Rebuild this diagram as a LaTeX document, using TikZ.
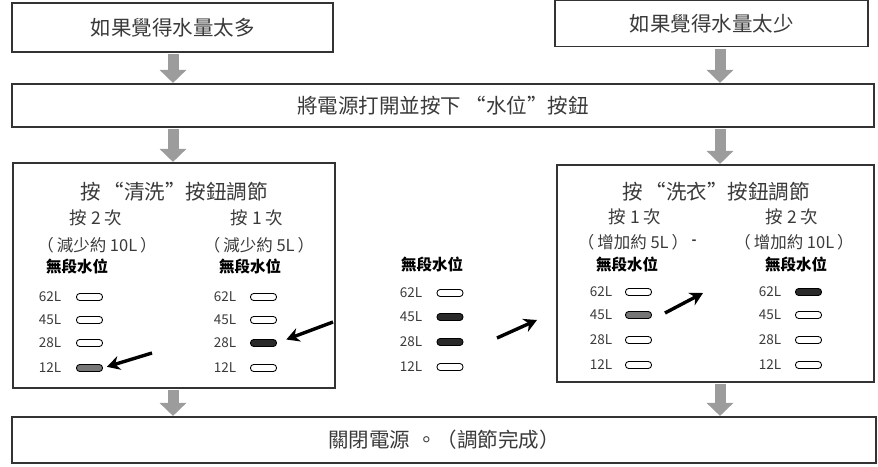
\documentclass[tikz,border=0pt]{standalone}
\usepackage{fontspec}
\setmainfont{Noto Sans CJK TC}
\usetikzlibrary{arrows.meta}
\definecolor{linec}{HTML}{333333}
\definecolor{txtc}{HTML}{3A3A3A}
\definecolor{arrg}{HTML}{9C9C9C}
\definecolor{darkfill}{HTML}{2A2A2A}
\definecolor{grayfill}{HTML}{767676}
\newcommand{\lp}{（\hspace{3pt}}
\newcommand{\rp}{\hspace{3pt}）}
\tikzset{
  box/.style={draw=linec, line width=1.1pt, inner sep=0pt, text=txtc},
  bigtxt/.style={font=\fontsize{20.5}{24}\selectfont},
  ttl/.style={text=txtc, inner sep=0pt, font=\fontsize{20.5}{24}\selectfont},
  cnt/.style={text=txtc, inner sep=0pt, font=\fontsize{17.5}{20}\selectfont},
  amt/.style={text=txtc, inner sep=0pt, font=\fontsize{16.5}{19}\selectfont},
  wl/.style={text=black, inner sep=0pt, font=\bfseries\fontsize{15.5}{18}\selectfont},
  lvl/.style={text=txtc, inner sep=0pt, font=\fontsize{13.5}{16}\selectfont},
  pill/.style={draw=black, line width=0.9pt, rounded corners=3.2pt, minimum width=26pt, minimum height=7pt, inner sep=0pt},
  garrow/.style={draw=arrg, line width=11pt, -{Triangle[width=26pt,length=13pt]}, shorten <=1.5pt, shorten >=0.5pt},
  barrow/.style={draw=black, line width=3.4pt, -{Stealth[length=13pt,width=14pt]}}
}
\begin{document}
\begin{tikzpicture}[x=1pt,y=-1pt]
\useasboundingbox (0,0) rectangle (878,466);
% boxes
\node[box, bigtxt, minimum width=321pt, minimum height=49pt] (t1) at (172.5,27.5) {如果覺得水量太多};
\node[box, bigtxt, minimum width=313pt, minimum height=46pt] (t2) at (711.5,23.5) {如果覺得水量太少};
\node[box, bigtxt, minimum width=862pt, minimum height=43pt] (mid) at (443,105.5) {將電源打開並按下\hspace{5pt}“水位”按鈕};
\node[box, minimum width=322pt, minimum height=225pt] (pL) at (174,275.5) {};
\node[box, minimum width=317pt, minimum height=217pt] (pR) at (715.5,273.5) {};
\node[box, bigtxt, minimum width=864pt, minimum height=46pt] (bot) at (444,440) {關閉電源\hspace{6pt}。（調節完成）};
% x positions of gray arrows
\coordinate (xl) at (173,0);
\coordinate (xr) at (720,0);
\draw[garrow] (t1.south -| xl) -- (mid.north -| xl);
\draw[garrow] (t2.south -| xr) -- (mid.north -| xr);
\draw[garrow] (mid.south -| xl) -- (pL.north -| xl);
\draw[garrow] (mid.south -| xr) -- (pR.north -| xr);
\draw[garrow] (pL.south -| xl) -- (bot.north -| xl);
\draw[garrow] (pR.south -| xr) -- (bot.north -| xr);
% left panel texts
\node[ttl] (pLt) at (174,192) {按\hspace{3pt}“清洗”按鈕調節};
\node[cnt] (pLc1) at (96,218) {按 2 次};
\node[cnt] (pLc2) at (257,218) {按 1 次};
\node[amt] (pLa1) at (97,245) {\lp 減少約 10L\rp};
\node[amt] (pLa2) at (259,245) {\lp 減少約 5L\rp};
\node[wl] (pLw1) at (77,267) {無段水位};
\node[wl] (pLw2) at (250,267) {無段水位};
\foreach \v/\y/\f in {62/297/none,45/320/none,28/343/none,12/368/grayfill}{
  \node[lvl] (La\v) at (50,\y) {\v L};
  \node[pill, fill=\f] (Lap\v) at (89.5,\y) {};
}
\foreach \v/\y/\f in {62/297/none,45/320/none,28/343/darkfill,12/368/none}{
  \node[lvl] (Lb\v) at (225,\y) {\v L};
  \node[pill, fill=\f] (Lbp\v) at (263.5,\y) {};
}
% middle column
\node[wl] (mw) at (432,265) {無段水位};
\foreach \v/\y/\f in {62/293/none,45/317/darkfill,28/342/darkfill,12/367/none}{
  \node[lvl] (M\v) at (411,\y) {\v L};
  \node[pill, fill=\f] (Mp\v) at (450,\y) {};
}
% right panel texts
\node[ttl] (pRt) at (716,192) {按\hspace{3pt}“洗衣”按鈕調節};
\node[cnt] (pRc1) at (635,217) {按 1 次};
\node[cnt] (pRc2) at (792,217) {按 2 次};
\node[amt] (pRa1) at (633,242) {\lp 增加約 5L\rp};
\node[text=txtc, inner sep=0pt, font=\bfseries\fontsize{13}{14}\selectfont] (pRd) at (694,242) {-};
\node[amt] (pRa2) at (794,242) {\lp 增加約 10L\rp};
\node[wl] (pRw1) at (627,265) {無段水位};
\node[wl] (pRw2) at (796,265) {無段水位};
\foreach \v/\y/\f in {62/292/none,45/315/grayfill,28/340/none,12/365/none}{
  \node[lvl] (Ra\v) at (601,\y) {\v L};
  \node[pill, fill=\f] (Rap\v) at (638.5,\y) {};
}
\foreach \v/\y/\f in {62/292/darkfill,45/315/none,28/340/none,12/365/none}{
  \node[lvl] (Rb\v) at (770,\y) {\v L};
  \node[pill, fill=\f] (Rbp\v) at (808.5,\y) {};
}
% black arrows
\coordinate (s1) at (152,353);
\coordinate (s2) at (333,322);
\coordinate (s3) at (497,338);
\coordinate (e3) at (537,320);
\coordinate (s4) at (665,313);
\coordinate (e4) at (703,293);
\draw[barrow, shorten >=4pt] (s1) -- (Lap12.east);
\draw[barrow, shorten >=10pt] (s2) -- (Lbp28.east);
\draw[barrow] (s3) -- (e3);
\draw[barrow] (s4) -- (e4);
\end{tikzpicture}
\end{document}
